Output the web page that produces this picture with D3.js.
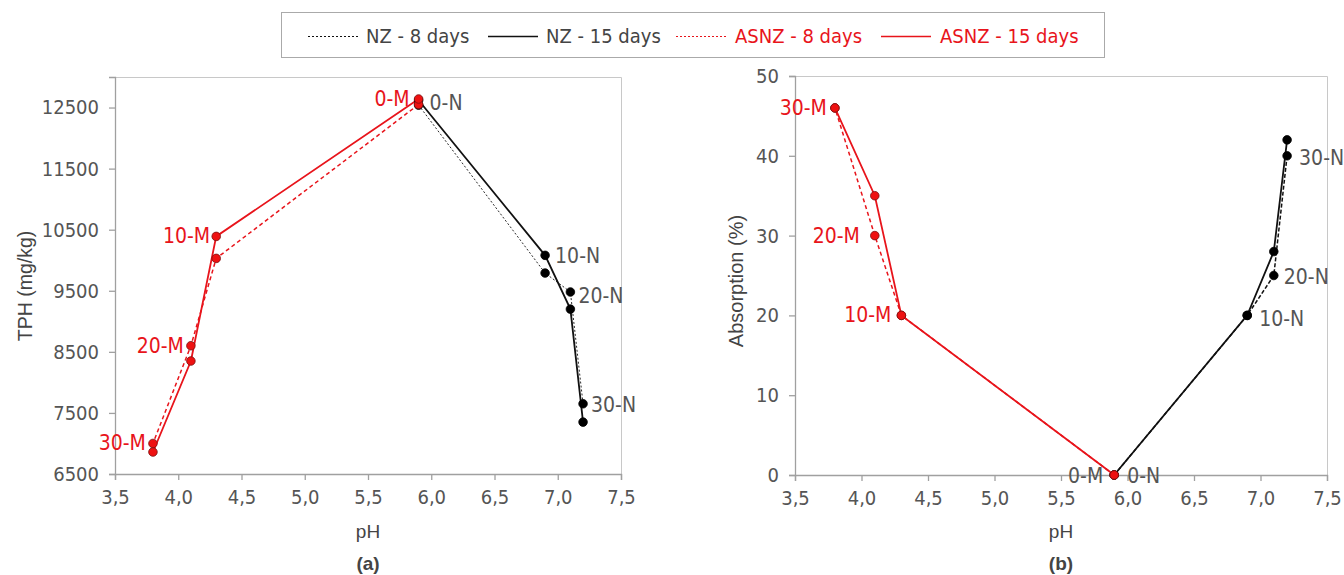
<!DOCTYPE html>
<html>
<head>
<meta charset="utf-8">
<script src="https://cdn.jsdelivr.net/npm/d3@7"></script>
<style>
  html, body { margin: 0; padding: 0; background: #fff; }
  svg { display: block; }
  .cond { font-family: "DejaVu Sans Condensed", "Liberation Sans Narrow", "Roboto", sans-serif; }
</style>
</head>
<body>
<svg id="chart" width="1344" height="575"></svg>
<script>
// Treatment labels (0, 10, 20, 30 % dose) for each soil group
const labelsM = ["0-M", "10-M", "20-M", "30-M"];
const labelsN = ["0-N", "10-N", "20-N", "30-N"];

// pH of each treatment
const phASNZ = [5.9, 4.3, 4.1, 3.8];
const phNZ   = [5.9, 6.9, 7.1, 7.2];

// (a) TPH (mg/kg)
const tphASNZ8  = [12550, 10030, 8600, 7000];
const tphASNZ15 = [12640, 10390, 8350, 6860];
const tphNZ8    = [12540, 9790, 9480, 7650];
const tphNZ15   = [12620, 10080, 9200, 7350];

// (b) Absorption (%)
const absASNZ8  = [0, 20, 30, 46];
const absASNZ15 = [0, 20, 35, 46];
const absNZ8    = [0, 20, 25, 40];
const absNZ15   = [0, 20, 28, 42];

// Axis ticks
const phTicks  = [3.5, 4.0, 4.5, 5.0, 5.5, 6.0, 6.5, 7.0, 7.5];
const tphTicks = [6500, 7500, 8500, 9500, 10500, 11500, 12500];
const absTicks = [0, 10, 20, 30, 40, 50];

const RED = "#e8141b";
const BLACK = "#111";
const GRAY_TEXT = "#555";
const AXIS = "#a0a0a0";
const fmtComma = d => d.toFixed(1).replace(".", ",");

const legendItems = [
  { name: "NZ - 8 days",    color: BLACK, dash: "2,2", width: 1.2, text: "#444", x: 308, tx: 366 },
  { name: "NZ - 15 days",   color: BLACK, dash: null,  width: 1.6, text: "#444", x: 488, tx: 546 },
  { name: "ASNZ - 8 days",  color: RED,   dash: "2,2", width: 1.2, text: RED,    x: 676, tx: 735 },
  { name: "ASNZ - 15 days", color: RED,   dash: null,  width: 1.6, text: RED,    x: 881, tx: 940 }
];

const svg = d3.select("#chart");

// ---------- legend ----------
const lg = svg.append("g");
lg.append("rect").attr("x", 281.5).attr("y", 12.5).attr("width", 823).attr("height", 45)
  .attr("fill", "#fff").attr("stroke", "#aaa").attr("stroke-width", 1);
legendItems.forEach(it => {
  lg.append("line").attr("x1", it.x).attr("x2", it.x + 50).attr("y1", 36.5).attr("y2", 36.5)
    .attr("stroke", it.color).attr("stroke-width", it.width)
    .attr("stroke-dasharray", it.dash);
  lg.append("text").attr("class", "cond").attr("x", it.tx).attr("y", 43)
    .attr("font-size", 20).attr("fill", it.text).text(it.name);
});

// ---------- panel builder ----------
function panel(opts) {
  const { left, right, top, bottom, yDomain, yTicks, yTitle, yTitleX, yTitleY, yTitleSize, caption, series, labels } = opts;
  const x = d3.scaleLinear().domain([3.5, 7.5]).range([left, right]);
  const y = d3.scaleLinear().domain(yDomain).range([bottom, top]);
  const g = svg.append("g");

  // frame (top and right)
  g.append("path")
    .attr("d", `M${left},${top + 0.5}H${right + 0.5}V${bottom}`)
    .attr("fill", "none").attr("stroke", "#c8c8c8").attr("stroke-width", 1);

  // x axis
  const xa = g.append("g").attr("transform", `translate(0,${bottom})`)
    .call(d3.axisBottom(x).tickValues(phTicks).tickFormat(fmtComma).tickSize(6).tickPadding(10));
  xa.select(".domain").attr("stroke", AXIS).attr("stroke-width", 1.3);
  xa.selectAll(".tick line").attr("stroke", AXIS).attr("stroke-width", 1.3);
  xa.selectAll("text").attr("class", "cond").attr("font-size", 20).attr("fill", GRAY_TEXT);

  // y axis
  const ya = g.append("g").attr("transform", `translate(${left},0)`)
    .call(d3.axisLeft(y).tickValues(yTicks).tickFormat(d3.format("d")).tickSize(6).tickPadding(10));
  ya.select(".domain").attr("stroke", AXIS).attr("stroke-width", 1.3);
  ya.selectAll(".tick line").attr("stroke", AXIS).attr("stroke-width", 1.3);
  ya.selectAll("text").attr("class", "cond").attr("font-size", 20).attr("fill", GRAY_TEXT);

  // axis titles and caption
  g.append("text").attr("x", (left + right) / 2).attr("y", 538).attr("text-anchor", "middle")
    .attr("font-family", "Liberation Sans, Arial, sans-serif").attr("font-size", 19)
    .attr("fill", "#444").text("pH");
  g.append("text").attr("transform", `translate(${yTitleX},${yTitleY}) rotate(-90)`)
    .attr("text-anchor", "middle").attr("font-family", "Liberation Sans, Arial, sans-serif")
    .attr("font-size", yTitleSize).attr("fill", "#444").text(yTitle);
  g.append("text").attr("x", (left + right) / 2).attr("y", 570).attr("text-anchor", "middle")
    .attr("font-family", "Liberation Sans, Arial, sans-serif").attr("font-weight", "bold")
    .attr("font-size", 19).attr("fill", "#444").text(caption);

  const line = d3.line().x(d => x(d[0])).y(d => y(d[1]));

  // lines first, then markers
  series.forEach(s => {
    const pts = s.ph.map((p, i) => [p, s.vals[i]]);
    g.append("path").datum(pts).attr("d", line).attr("fill", "none")
      .attr("stroke", s.color).attr("stroke-width", s.width)
      .attr("stroke-dasharray", s.dash);
  });
  series.forEach(s => {
    const pts = s.ph.map((p, i) => [p, s.vals[i]]);
    g.selectAll(null).data(pts).join("circle")
      .attr("cx", d => x(d[0])).attr("cy", d => y(d[1])).attr("r", 4.3)
      .attr("fill", s.color === RED ? "#ee1111" : "#000")
      .attr("stroke", s.color === RED ? "#7a1010" : "#000").attr("stroke-width", 0.8);
  });

  // treatment labels
  labels.forEach(l => {
    g.append("text").attr("class", "cond")
      .attr("x", x(l.ph) + l.dx).attr("y", y(l.v) + l.dy)
      .attr("text-anchor", l.anchor).attr("font-size", 21).attr("fill", l.color)
      .text(l.text);
  });
}

// ---------- (a) TPH ----------
panel({
  left: 115, right: 621, top: 77, bottom: 474,
  yDomain: [6500, 13000], yTicks: tphTicks,
  yTitle: "TPH (mg/kg)", yTitleX: 32, yTitleY: 286, yTitleSize: 19.5, caption: "(a)",
  series: [
    { ph: phNZ, vals: tphNZ8, color: BLACK, dash: "2,2", width: 0.9 },
    { ph: phNZ, vals: tphNZ15, color: BLACK, dash: null, width: 1.8 },
    { ph: phASNZ, vals: tphASNZ8, color: RED, dash: "4,3", width: 1.5 },
    { ph: phASNZ, vals: tphASNZ15, color: RED, dash: null, width: 1.8 }
  ],
  labels: [
    { text: labelsM[0], ph: phASNZ[0], v: tphASNZ15[0], dx: -9, dy: 7, anchor: "end", color: RED },
    { text: labelsN[0], ph: phNZ[0], v: tphNZ15[0], dx: 11, dy: 10, anchor: "start", color: GRAY_TEXT },
    { text: labelsM[1], ph: phASNZ[1], v: tphASNZ15[1], dx: -6, dy: 7, anchor: "end", color: RED },
    { text: labelsM[2], ph: phASNZ[2], v: tphASNZ8[2], dx: -7, dy: 7, anchor: "end", color: RED },
    { text: labelsM[3], ph: phASNZ[3], v: tphASNZ8[3], dx: -7, dy: 7, anchor: "end", color: RED },
    { text: labelsN[1], ph: phNZ[1], v: tphNZ15[1], dx: 10, dy: 8, anchor: "start", color: GRAY_TEXT },
    { text: labelsN[2], ph: phNZ[2], v: tphNZ8[2], dx: 8, dy: 11, anchor: "start", color: GRAY_TEXT },
    { text: labelsN[3], ph: phNZ[3], v: tphNZ8[3], dx: 8, dy: 8, anchor: "start", color: GRAY_TEXT }
  ]
});

// ---------- (b) Absorption ----------
panel({
  left: 795, right: 1327, top: 76, bottom: 475,
  yDomain: [0, 50], yTicks: absTicks,
  yTitle: "Absorption (%)", yTitleX: 743, yTitleY: 281, yTitleSize: 20, caption: "(b)",
  series: [
    { ph: phNZ, vals: absNZ8, color: BLACK, dash: "4,2", width: 1.5 },
    { ph: phNZ, vals: absNZ15, color: BLACK, dash: null, width: 1.8 },
    { ph: phASNZ, vals: absASNZ8, color: RED, dash: "4,3", width: 1.5 },
    { ph: phASNZ, vals: absASNZ15, color: RED, dash: null, width: 1.8 }
  ],
  labels: [
    { text: labelsM[3], ph: phASNZ[3], v: absASNZ15[3], dx: -8, dy: 7, anchor: "end", color: RED },
    { text: labelsM[2], ph: phASNZ[2], v: absASNZ8[2], dx: -15, dy: 7, anchor: "end", color: RED },
    { text: labelsM[1], ph: phASNZ[1], v: absASNZ15[1], dx: -10, dy: 7, anchor: "end", color: RED },
    { text: labelsM[0], ph: phASNZ[0], v: absASNZ15[0], dx: -11, dy: 8, anchor: "end", color: GRAY_TEXT },
    { text: labelsN[0], ph: phNZ[0], v: absNZ15[0], dx: 13, dy: 8, anchor: "start", color: GRAY_TEXT },
    { text: labelsN[1], ph: phNZ[1], v: absNZ15[1], dx: 12, dy: 11, anchor: "start", color: GRAY_TEXT },
    { text: labelsN[2], ph: phNZ[2], v: absNZ8[2], dx: 10, dy: 8, anchor: "start", color: GRAY_TEXT },
    { text: labelsN[3], ph: phNZ[3], v: absNZ8[3], dx: 12, dy: 9, anchor: "start", color: GRAY_TEXT }
  ]
});
</script>
</body>
</html>
